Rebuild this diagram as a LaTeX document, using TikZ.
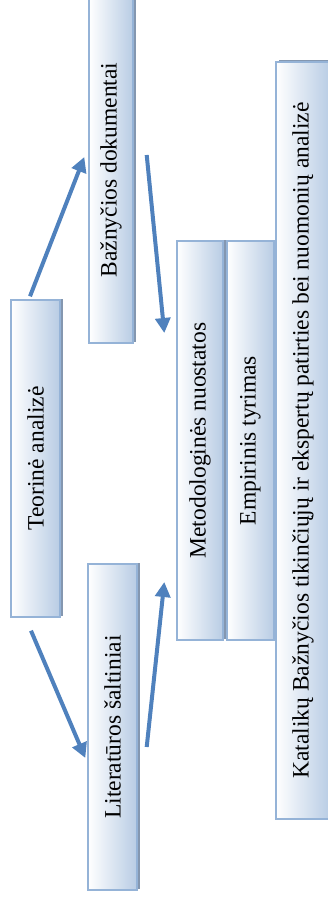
\documentclass[tikz,border=0pt]{standalone}
\usepackage{fontspec}
\setmainfont{Liberation Serif}
\usetikzlibrary{arrows.meta,shadows}
\definecolor{bordc}{RGB}{149,179,215}
\definecolor{shadeblue}{RGB}{184,204,228}
\definecolor{shadowc}{RGB}{132,151,176}
\definecolor{arrowc}{RGB}{79,129,189}
\tikzset{
  box/.style={draw=bordc, line width=1.4pt, left color=white, right color=shadeblue,
    inner sep=0pt, font=\fontsize{23.5}{28}\selectfont,
    drop shadow={shadow xshift=3pt, shadow yshift=1.5pt, fill=shadowc, opacity=1}},
  conn/.style={draw=arrowc, line width=4pt, -{Triangle[width=15pt,length=15pt]}}
}
\begin{document}
\begin{tikzpicture}[x=1pt,y=-1pt]
\useasboundingbox (0,0) rectangle (327,901);
\node[box, minimum width=49pt, minimum height=317pt] (teo) at (35.5,458.5) {\rotatebox{90}{Teorinė analizė}};
\node[box, minimum width=44pt, minimum height=346pt] (baz) at (111,170) {\rotatebox{90}{Bažnyčios dokumentai}};
\node[box, minimum width=49pt, minimum height=326pt] (lit) at (112.5,727) {\rotatebox{90}{Literatūros šaltiniai}};
\node[box, minimum width=46pt, minimum height=399pt] (met) at (200,440.5) {\rotatebox{90}{Metodologinės nuostatos}};
\node[box, minimum width=47pt, minimum height=399pt] (emp) at (250.5,440.5) {\rotatebox{90}{Empirinis tyrimas}};
\node[box, minimum width=54pt, minimum height=757pt] (kat) at (303,440.5) {\rotatebox{90}{Katalikų Bažnyčios tikinčiųjų ir ekspertų patirties bei nuomonių analizė}};
\draw[conn] ([xshift=-5.5pt,yshift=3pt]teo.north) -- ([xshift=-4pt,yshift=13pt]baz.west);
\draw[conn] ([xshift=13pt,yshift=15pt]baz.east) -- ([xshift=-12pt,yshift=107.5pt]met.west);
\draw[conn] ([xshift=-4.5pt,yshift=-13pt]teo.south) -- ([xshift=-2pt,yshift=-31pt]lit.west);
\draw[conn] ([xshift=9pt,yshift=-20pt]lit.east) -- ([xshift=-12pt,yshift=-141.5pt]met.west);
\end{tikzpicture}
\end{document}
